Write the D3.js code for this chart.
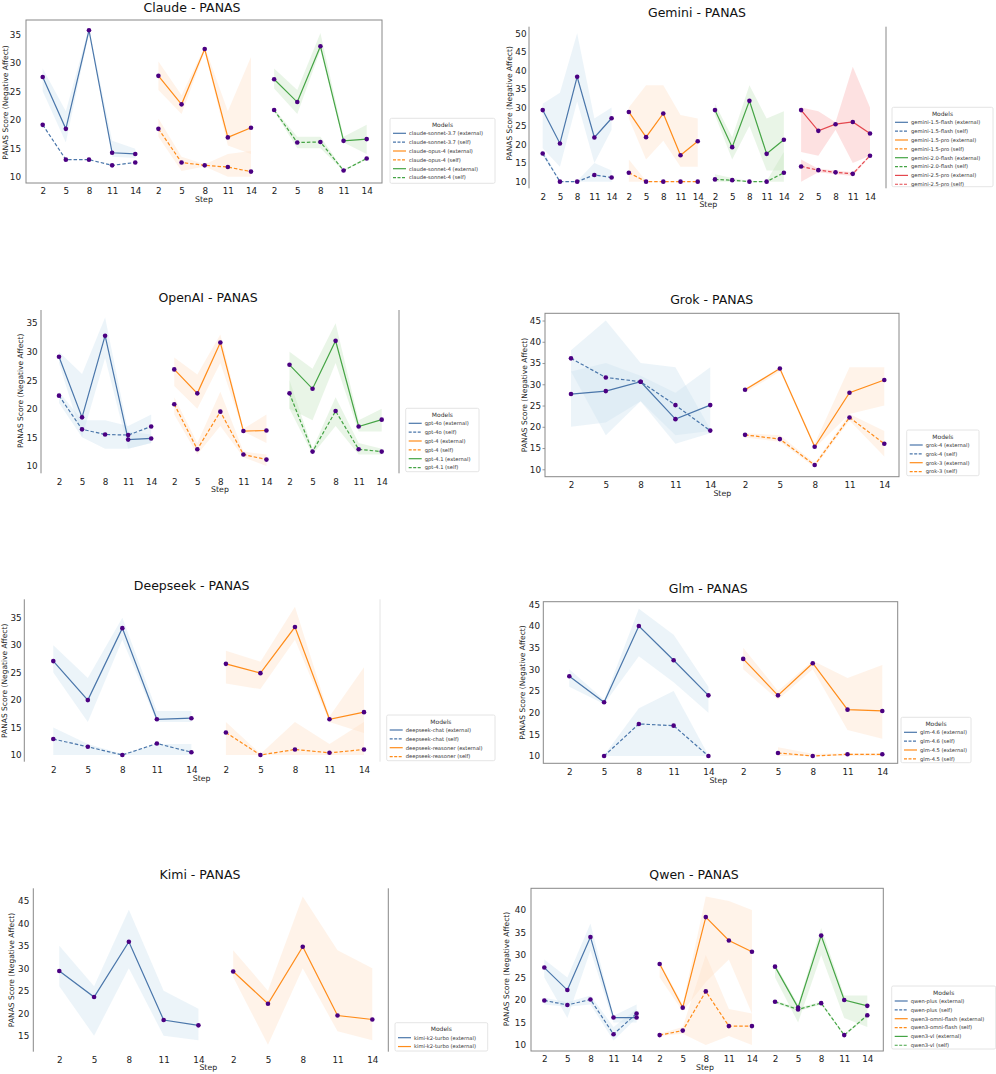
<!DOCTYPE html>
<html>
<head>
<meta charset="utf-8">
<script src="https://cdn.jsdelivr.net/npm/d3@7"></script>
<style>
  body { margin: 0; background: #fff; }
  svg { display: block; font-family: 'DejaVu Sans', sans-serif; }
</style>
</head>
<body>
<svg id="chart" width="996" height="1074"></svg>
<script>
const steps = [2, 5, 8, 11, 14];

// ---- Claude ----
const claudeLabels = ['claude-sonnet-3.7 (external)', 'claude-sonnet-3.7 (self)', 'claude-opus-4 (external)',
  'claude-opus-4 (self)', 'claude-sonnet-4 (external)', 'claude-sonnet-4 (self)'];
const claudeBlock = [0, 0, 1, 1, 2, 2];
const claudeMean = [
  [27.5, 18.4, 35.7, 14.2, 14.0], [19.1, 13.0, 13.0, 12.0, 12.5],
  [27.7, 22.7, 32.4, 16.9, 18.6], [18.4, 12.5, 12.0, 11.7, 10.9],
  [27.1, 23.1, 32.9, 16.3, 16.6], [21.7, 16.0, 16.1, 11.1, 13.2]];
const claudeLow = [
  [25, 16, 35.2, 13.5, 13.3], null,
  [25.2, 21, 32, 15.5, 14], [17, 11, 11.8, 10, 10],
  [25.5, 21, 32.2, 16, 14], [21.5, 15, 15, 11, 13]];
const claudeHigh = [
  [29, 21.5, 36.2, 16.3, 14.9], null,
  [30.2, 24.3, 32.8, 21.5, 31], [20.2, 13.5, 12.2, 14, 14.5],
  [29, 25.2, 35.2, 17, 19.1], [21.9, 17, 17, 11.2, 13.4]];

// ---- Gemini ----
const geminiLabels = ['gemini-1.5-flash (external)', 'gemini-1.5-flash (self)', 'gemini-1.5-pro (external)',
  'gemini-1.5-pro (self)', 'gemini-2.0-flash (external)', 'gemini-2.0-flash (self)',
  'gemini-2.5-pro (external)', 'gemini-2.5-pro (self)'];
const geminiBlock = [0, 0, 1, 1, 2, 2, 3, 3];
const geminiMean = [
  [29.3, 20.3, 38.3, 21.9, 27.1], [17.6, 10, 10, 11.8, 11.1],
  [28.8, 22.0, 28.4, 17.1, 20.9], [12.4, 10, 10, 10, 10],
  [29.3, 19.3, 31.8, 17.5, 21.3], [10.6, 10.4, 10, 10, 12.4],
  [29.3, 23.7, 25.5, 26.1, 23.0], [14.1, 13.1, 12.5, 12.1, 17.0]];
const geminiLow = [
  [19, 14, 31.6, 15, 24], [17, 10, 10, 10, 10],
  [27, 16, 21, 14, 14], [10, 10, 10, 10, 10],
  [28, 16, 25, 13, 13], [10, 10, 10, 10, 10],
  [18, 17, 24, 15, 17], [10, 12.5, 12, 11.5, 16.8]];
const geminiHigh = [
  [31, 34, 50, 27, 30], [18.5, 10.2, 10.2, 15, 13],
  [30, 36, 36, 28, 27], [16, 10.2, 10.2, 10.2, 10.2],
  [31, 22, 36, 27, 29], [12, 11, 10.2, 10.2, 18],
  [30, 29, 26, 41, 30], [16, 13.5, 13, 12.5, 17.2]];

// ---- OpenAI ----
const openaiLabels = ['gpt-4o (external)', 'gpt-4o (self)', 'gpt-4 (external)', 'gpt-4 (self)',
  'gpt-4.1 (external)', 'gpt-4.1 (self)'];
const openaiBlock = [0, 0, 1, 1, 2, 2];
const openaiMean = [
  [29.1, 18.5, 32.8, 14.6, 14.8], [22.3, 16.4, 15.5, 15.4, 16.9],
  [26.9, 22.7, 31.6, 16.1, 16.2], [20.8, 12.9, 19.5, 12.0, 11.1],
  [27.7, 23.5, 31.9, 16.9, 18.1], [22.7, 12.5, 19.6, 12.9, 12.5]];
const openaiLow = [
  [28, 15, 28.9, 13, 14], [21, 15, 13, 13, 14],
  [24, 20, 28, 16, 14], [19, 12, 17, 11.5, 10],
  [20, 18, 28, 16, 16], [20, 12, 17, 12, 12]];
const openaiHigh = [
  [30, 26.1, 36, 16, 15.5], [23, 18, 18, 17, 19],
  [29, 26, 33, 16.5, 19], [22, 14, 23, 12.5, 12],
  [30, 27, 35, 18, 20], [25, 13, 22, 14, 13]];

// ---- Grok ----
const grokLabels = ['grok-4 (external)', 'grok-4 (self)', 'grok-3 (external)', 'grok-3 (self)'];
const grokBlock = [0, 0, 1, 1];
const grokMean = [
  [27.7, 28.4, 30.6, 21.8, 25.1], [36.1, 31.6, 30.6, 25.1, 19.1],
  [28.7, 33.7, 15.3, 28.0, 31.0], [18.1, 17.1, 11.0, 22.2, 16.0]];
const grokLow = [
  [20, 21, 26, 18, 19], [33, 18, 26, 16, 18.5],
  [28, 33, 15, 23, 25], [17.5, 16.5, 10.5, 21.5, 13]];
const grokHigh = [
  [33, 35, 32, 28, 34], [38, 45, 35, 34, 19.5],
  [29, 34, 16, 34, 34], [18.5, 18, 11.5, 23, 19]];

// ---- Deepseek ----
const deepseekLabels = ['deepseek-chat (external)', 'deepseek-chat (self)', 'deepseek-reasoner (external)',
  'deepseek-reasoner (self)'];
const deepseekBlock = [0, 0, 1, 1];
const deepseekMean = [
  [27.1, 20.0, 33.1, 16.5, 16.7], [12.9, 11.5, 10.0, 12.1, 10.5],
  [26.6, 24.9, 33.3, 16.5, 17.8], [14.1, 10.0, 11.0, 10.4, 11.0]];
const deepseekLow = [
  [25, 16, 31, 16, 16], [10, 10, 10, 10, 10],
  [23, 22, 31, 16, 14], [10, 10, 10, 10, 10]];
const deepseekHigh = [
  [30, 24, 35, 18, 18], [15, 12, 10.2, 12, 12],
  [29, 27, 37, 17, 26], [16, 10.2, 16, 12, 16]];

// ---- Glm ----
const glmLabels = ['glm-4.6 (external)', 'glm-4.6 (self)', 'glm-4.5 (external)', 'glm-4.5 (self)'];
const glmBlock = [0, 0, 1, 1];
const glmMean = [
  [28.4, 22.4, 40.0, 32.1, 24.0], [null, 10, 17.4, 17.0, 10],
  [32.4, 24.0, 31.4, 20.7, 20.4], [null, 10.7, 10, 10.4, 10.4]];
const glmLow = [
  [26, 22, 33, 27, 20], [null, 10, 10, 10, 10],
  [30, 23, 30, 16, 14], [null, 10, 10, 10, 10]];
const glmHigh = [
  [30, 23, 44, 38, 26], [null, 10.2, 21, 25, 10.2],
  [35, 25, 32, 28, 31], [null, 12, 10.5, 10.6, 10.6]];

// ---- Kimi ----
const kimiLabels = ['kimi-k2-turbo (external)', 'kimi-k2-turbo (external)'];
const kimiBlock = [0, 1];
const kimiMean = [[29.4, 23.6, 35.9, 18.5, 17.3], [29.3, 22.1, 34.8, 19.5, 18.6]];
const kimiLow = [[26, 15, 30, 15, 14], [28, 13, 30, 16, 14]];
const kimiHigh = [[35, 26, 43, 25, 21], [34, 25, 46, 34, 30]];

// ---- Qwen ----
const qwenLabels = ['qwen-plus (external)', 'qwen-plus (self)', 'qwen3-omni-flash (external)',
  'qwen3-omni-flash (self)', 'qwen3-vl (external)', 'qwen3-vl (self)'];
const qwenBlock = [0, 0, 1, 1, 2, 2];
const qwenMean = [
  [27.2, 22.2, 34.0, 16.1, 16.1], [19.9, 18.9, 20.1, 12.4, 17.0],
  [28.0, 18.3, 38.4, 33.2, 30.7], [12.2, 13.2, 21.9, 14.2, 14.2],
  [27.4, 18.3, 34.3, 20.0, 18.7], [19.6, 17.9, 19.3, 12.2, 16.6]];
const qwenLow = [
  [25, 16, 31, 15, 15], [19, 18.5, 19, 11, 16],
  [25, 17.5, 24, 29, 17], [12, 12.5, 10, 12, 10],
  [25, 15, 30, 16, 14], [19.3, 17.5, 19, 12, 16.3]];
const qwenHigh = [
  [29, 25, 37, 16.5, 19], [20.5, 19.5, 21, 14, 18],
  [28.5, 19, 43, 42, 40], [12.5, 14, 30, 18, 17],
  [28, 19, 36, 21, 21], [19.9, 18.3, 19.6, 12.4, 16.9]];

// layout (absolute px)
const panels = [
  { title: 'Claude - PANAS', labels: claudeLabels, block: claudeBlock, mean: claudeMean, low: claudeLow, high: claudeHigh,
    yTicks: [10, 35], yDom: [8.9, 37.5], box: [26, 20, 382, 183], xs: [42.7, 366.7], frame: 'box', tick: [0, 5],
    titleXY: [192, 12], stepXY: [204, 202], ylabXY: [5, 102.5], legend: [390, 118.3, 105, 65] },
  { title: 'Gemini - PANAS', labels: geminiLabels, block: geminiBlock, mean: geminiMean, low: geminiLow, high: geminiHigh,
    yTicks: [10, 50], yDom: [8.2, 51.8], box: [529, 26.7, 886, 188.3], xs: [542.7, 870], frame: 'lr', tick: [0, 2.5],
    titleXY: [697, 17.3], stepXY: [708.3, 206.7], ylabXY: [509.5, 103.3], legend: [892, 107.3, 101, 79.4] },
  { title: 'OpenAI - PANAS', labels: openaiLabels, block: openaiBlock, mean: openaiMean, low: openaiLow, high: openaiHigh,
    yTicks: [10, 35], yDom: [8.7, 37.3], box: [41, 310, 399, 473.3], xs: [59, 381.7], frame: 'lr', tick: [0, 3.3],
    titleXY: [208, 301.7], stepXY: [220, 491.7], ylabXY: [20.7, 390.8], legend: [405.7, 408.3, 73.3, 63.4] },
  { title: 'Grok - PANAS', labels: grokLabels, block: grokBlock, mean: grokMean, low: grokLow, high: grokHigh,
    yTicks: [10, 45], yDom: [8.26, 46.7], box: [545, 313.3, 899, 476.7], xs: [571, 884.3], frame: 'box', tick: [2.5, 1.5],
    titleXY: [711.7, 304.3], stepXY: [722.3, 495.7], ylabXY: [524.5, 395], legend: [906.7, 430, 72.3, 45.7] },
  { title: 'Deepseek - PANAS', labels: deepseekLabels, block: deepseekBlock, mean: deepseekMean, low: deepseekLow, high: deepseekHigh,
    yTicks: [10, 35], yDom: [8.78, 38.35], box: [24.3, 599.3, 380, 761.7], xs: [53.3, 364], frame: 'lrFaint', tick: [0, 2.6],
    titleXY: [191.7, 590], stepXY: [201.7, 781.3], ylabXY: [4, 680.8], legend: [386.7, 715, 108.3, 45.7] },
  { title: 'Glm - PANAS', labels: glmLabels, block: glmBlock, mean: glmMean, low: glmLow, high: glmHigh,
    yTicks: [10, 45], yDom: [8.32, 45.6], box: [543.3, 601.7, 897.7, 763.3], xs: [569.3, 882.3], frame: 'box', tick: [0, 3.3],
    titleXY: [708.3, 592.7], stepXY: [718.3, 782.7], ylabXY: [522.7, 682.5], legend: [901, 717.3, 70, 45.4] },
  { title: 'Kimi - PANAS', labels: kimiLabels, block: kimiBlock, mean: kimiMean, low: kimiLow, high: kimiHigh,
    yTicks: [15, 45], yDom: [11.44, 47.8], box: [33.3, 888.3, 388.3, 1051.7], xs: [59.3, 372.3], frame: 'lr', tick: [0, 4],
    titleXY: [200, 879.3], stepXY: [208.3, 1070], ylabXY: [11.7, 970], legend: [395, 1022.7, 92.7, 28.3] },
  { title: 'Qwen - PANAS', labels: qwenLabels, block: qwenBlock, mean: qwenMean, low: qwenLow, high: qwenHigh,
    yTicks: [10, 40], yDom: [8.67, 44.8], box: [531, 888.3, 883.3, 1051], xs: [544.3, 867.3], frame: 'box', tick: [0, 5],
    titleXY: [694, 879.3], stepXY: [705, 1070], ylabXY: [506.7, 969], legend: [891.7, 986, 104, 63] }
];

const palette = ['#4a76aa', '#ff8c1a', '#45a445', '#e4474e'];
const bandFill = ['#cfe3f1', '#ffe1c8', '#c9e6c4', '#f9b3b3'];
const dotColor = '#4b0082';

const svg = d3.select('#chart');

panels.forEach((p) => {
  const g = svg.append('g');
  const [l, t, r, b] = p.box;
  const nBlocks = d3.max(p.block) + 1;
  const x = d3.scaleLinear().domain([0, nBlocks * steps.length - 1]).range(p.xs);
  const y = d3.scaleLinear().domain(p.yDom).range([b, t]);
  const xAt = (s, j) => x(p.block[s] * steps.length + j);
  const isSelf = (s) => p.labels[s].includes('(self)');

  // confidence bands
  p.mean.forEach((row, s) => {
    if (!p.low[s]) return;
    const pts = row.map((v, j) => ({ j, lo: p.low[s][j], hi: p.high[s][j] }));
    g.append('path').datum(pts)
      .attr('d', d3.area().defined((d) => d.lo != null)
        .x((d) => xAt(s, d.j)).y0((d) => y(d.lo)).y1((d) => y(d.hi)))
      .attr('fill', bandFill[p.block[s]])
      .attr('fill-opacity', 0.4);
  });

  // lines
  p.mean.forEach((row, s) => {
    const pts = row.map((v, j) => ({ j, v }));
    g.append('path').datum(pts)
      .attr('d', d3.line().defined((d) => d.v != null).x((d) => xAt(s, d.j)).y((d) => y(d.v)))
      .attr('fill', 'none')
      .attr('stroke', palette[p.block[s]])
      .attr('stroke-width', 1.2)
      .attr('stroke-dasharray', isSelf(s) ? '3.5,2' : null);
  });

  // dots
  p.mean.forEach((row, s) => {
    g.append('g').selectAll('circle')
      .data(row.map((v, j) => ({ j, v })).filter((d) => d.v != null))
      .enter().append('circle')
      .attr('cx', (d) => xAt(s, d.j))
      .attr('cy', (d) => y(d.v))
      .attr('r', 2.3)
      .attr('fill', dotColor);
  });

  // axes
  const yAxis = d3.axisLeft(y)
    .tickValues(d3.range(p.yTicks[0], p.yTicks[1] + 1, 5))
    .tickSize(p.tick[0]).tickPadding(p.tick[1]);
  const ya = g.append('g').attr('transform', `translate(${l},0)`).call(yAxis);
  const xAxis = d3.axisBottom(x)
    .tickValues(d3.range(nBlocks * steps.length))
    .tickFormat((i) => steps[i % steps.length])
    .tickSize(0).tickPadding(5);
  const xa = g.append('g').attr('transform', `translate(0,${b})`).call(xAxis);
  [ya, xa].forEach((a) => {
    a.select('.domain').remove();
    a.selectAll('line').attr('stroke', '#999');
    a.selectAll('text').attr('font-size', 8.8).attr('fill', '#222').attr('font-family', 'DejaVu Sans');
  });

  // frame
  const spine = p.frame === 'lrFaint' ? '#e4e4e4' : '#888';
  if (p.frame === 'box') {
    g.append('rect').attr('x', l).attr('y', t).attr('width', r - l).attr('height', b - t)
      .attr('fill', 'none').attr('stroke', '#888').attr('stroke-width', 1);
  } else {
    g.append('line').attr('x1', l).attr('x2', l).attr('y1', t).attr('y2', b).attr('stroke', '#888');
    g.append('line').attr('x1', r).attr('x2', r).attr('y1', t).attr('y2', b).attr('stroke', spine);
  }

  // titles
  g.append('text').attr('x', p.titleXY[0]).attr('y', p.titleXY[1])
    .attr('text-anchor', 'middle').attr('font-size', 12.5).attr('fill', '#111').text(p.title);
  g.append('text').attr('x', p.stepXY[0]).attr('y', p.stepXY[1])
    .attr('text-anchor', 'middle').attr('font-size', 7.8).attr('fill', '#222').text('Step');
  g.append('text')
    .attr('transform', `translate(${p.ylabXY[0]},${p.ylabXY[1]}) rotate(-90)`)
    .attr('text-anchor', 'middle').attr('dy', '0.35em')
    .attr('font-size', 7.5).attr('fill', '#222').text('PANAS Score (Negative Affect)');

  // legend
  const [lx, ly, lw, lh] = p.legend;
  const lg = g.append('g').attr('transform', `translate(${lx},${ly})`);
  lg.append('rect').attr('width', lw).attr('height', lh).attr('rx', 1.5)
    .attr('fill', '#fff').attr('stroke', '#ddd').attr('stroke-width', 0.8);
  lg.append('text').attr('x', lw / 2).attr('y', 8.5).attr('text-anchor', 'middle')
    .attr('font-size', 6).attr('fill', '#333').text('Models');
  p.labels.forEach((lab, s) => {
    const yy = 15 + s * 8.85;
    lg.append('line').attr('x1', 3).attr('x2', 16).attr('y1', yy).attr('y2', yy)
      .attr('stroke', palette[p.block[s]]).attr('stroke-width', 1.2)
      .attr('stroke-dasharray', isSelf(s) ? '3,1.5' : null);
    lg.append('text').attr('x', 19).attr('y', yy).attr('dy', '0.35em')
      .attr('font-size', 5.2).attr('fill', '#333').text(lab);
  });
});
</script>
</body>
</html>
